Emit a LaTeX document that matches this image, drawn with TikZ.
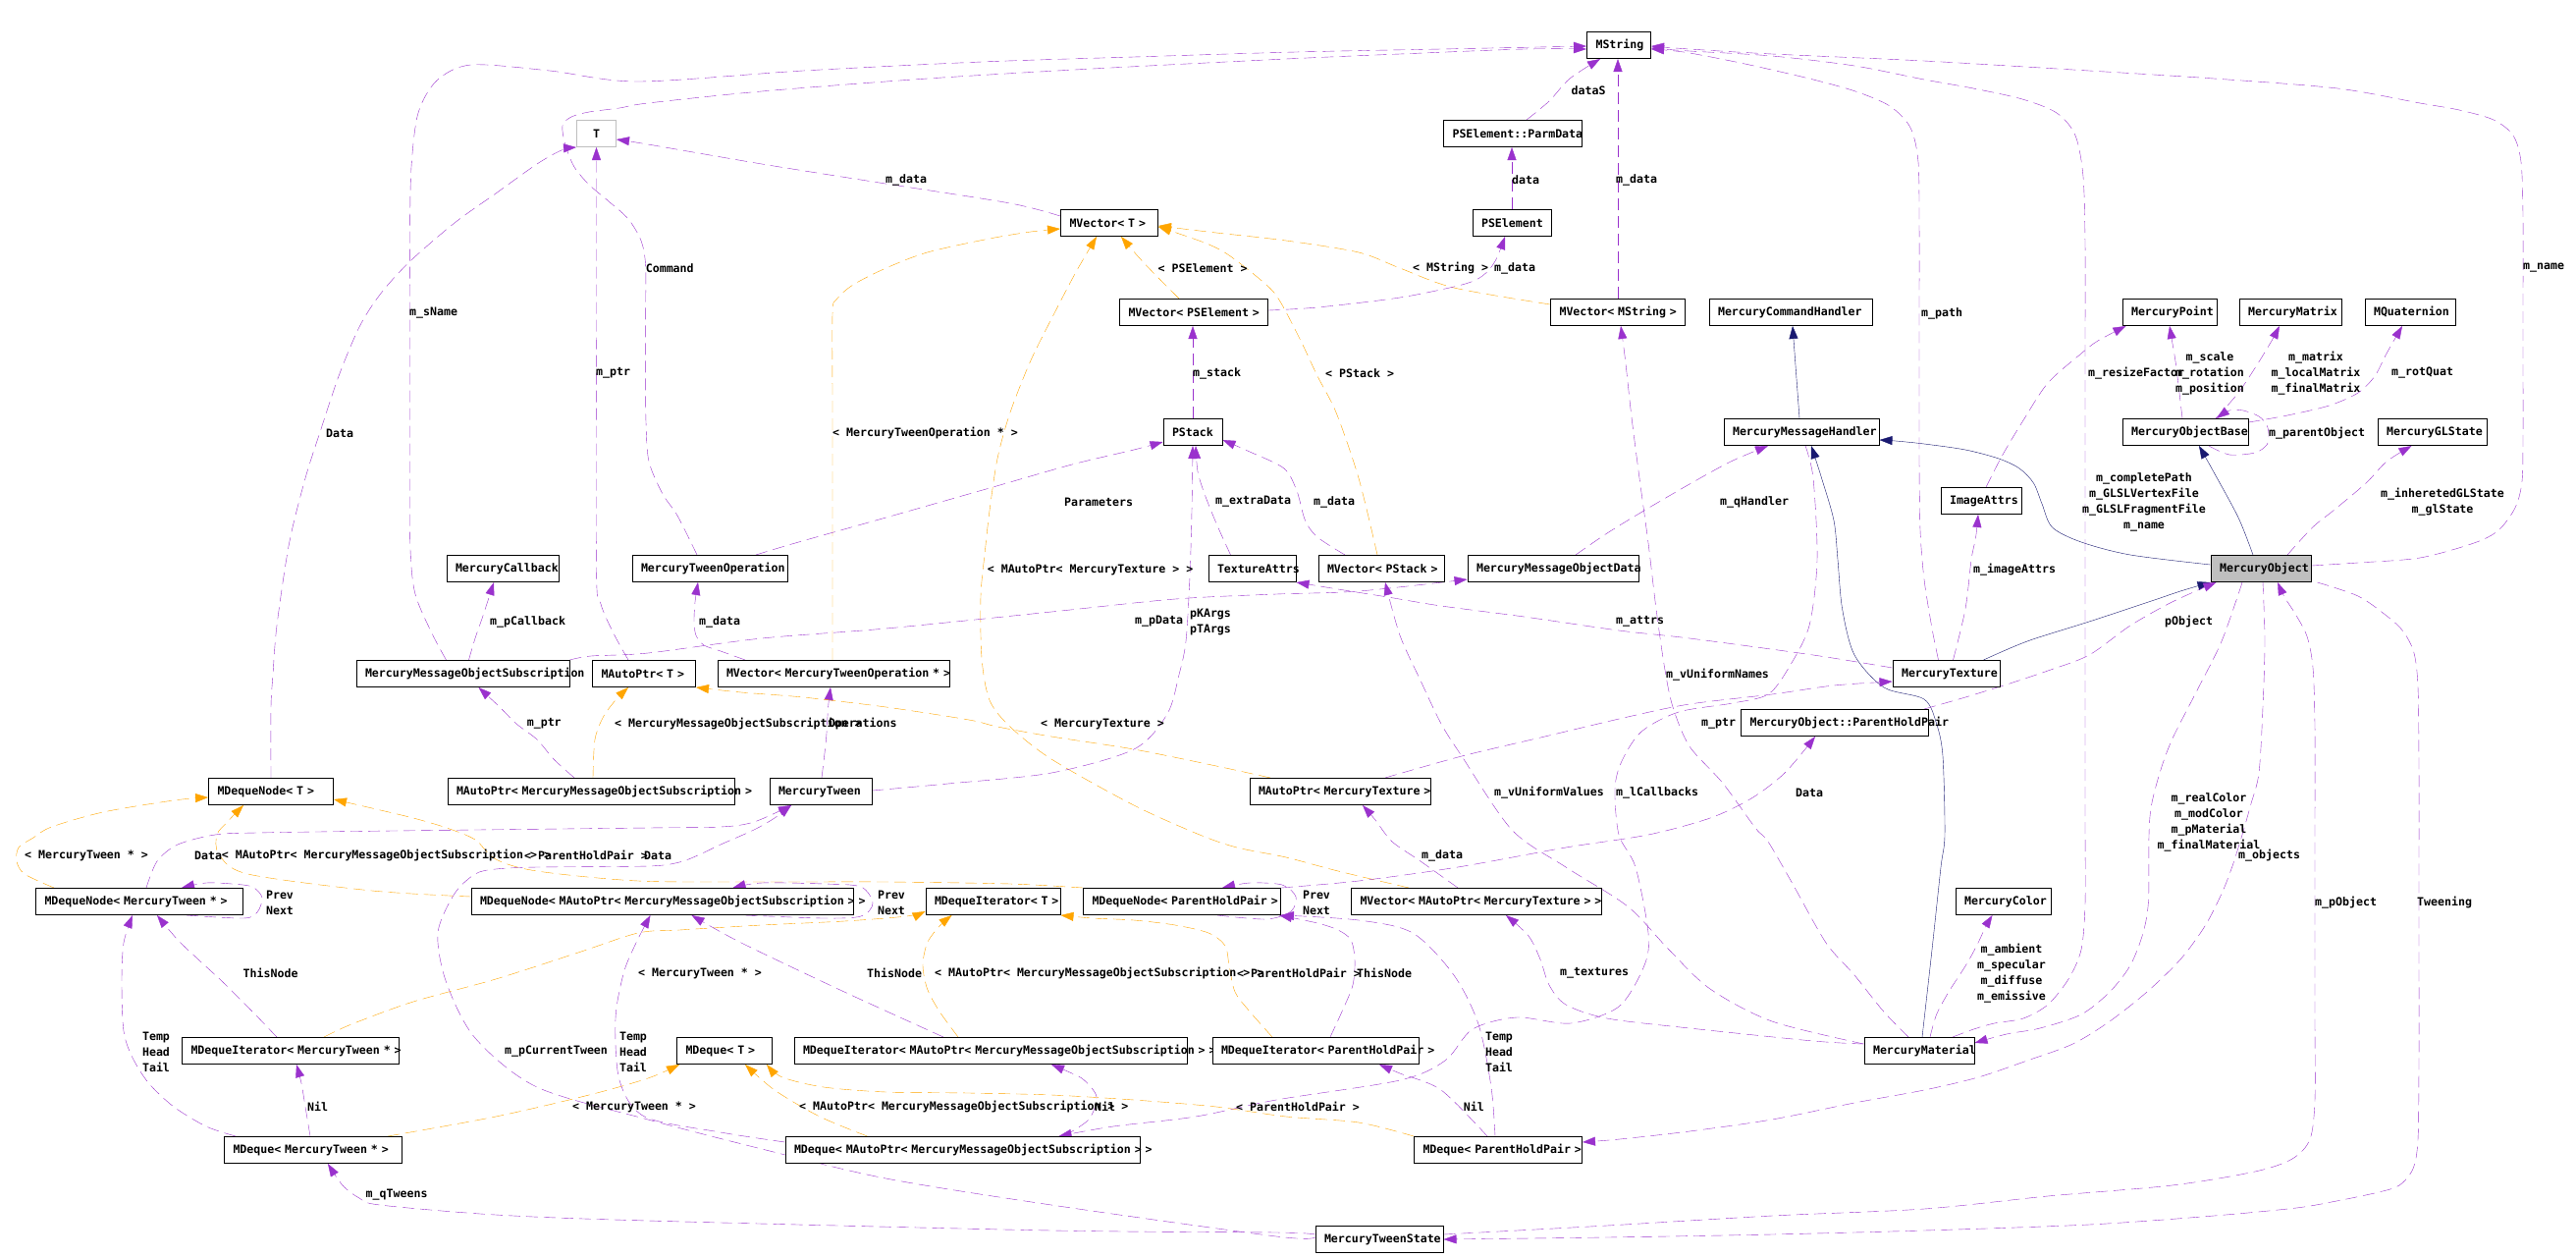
\documentclass[tikz,border=0pt]{standalone}
\usepackage{fontspec}
\newfontfamily\dvm{DejaVu Sans Mono}
\usetikzlibrary{arrows.meta,calc}
\pgfdeclarelayer{bg}
\pgfsetlayers{bg,main}
\definecolor{pur}{HTML}{9A32CD}
\definecolor{org}{HTML}{FFA500}
\definecolor{nvy}{HTML}{191970}
\definecolor{gfill}{HTML}{BFBFBF}
\newcommand\nf{\dvm\bfseries\fontsize{11.6pt}{16pt}\selectfont}
\begin{document}
\begin{tikzpicture}[x=1pt,y=-1pt,line width=1pt,
  box/.style={draw=black, fill=white, line width=1pt, minimum height=27pt, inner xsep=9pt, inner ysep=0pt, align=left, font=\nf, text width=#1},
  pu/.style={draw=pur, dash pattern=on 12pt off 6pt, -{Triangle[length=13pt,width=9pt]}},
  og/.style={draw=org, dash pattern=on 12pt off 6pt, -{Triangle[length=13pt,width=9pt]}},
  nv/.style={draw=nvy, solid, -{Triangle[length=13pt,width=9pt]}},
  lb/.style={font=\nf, inner sep=0pt, anchor=west},
  lc/.style={font=\nf, inner sep=0pt, align=center}]
\path[use as bounding box] (0,0) rectangle (2624,1280);
% ---------- nodes ----------
\node[box=22pt, draw=gfill, align=center] (tnode) at (607.5,136) {T};
\node[box=81pt] (mvt) at (1130,227) {\mbox{MVector< T >}};
\node[box=133pt] (mvpse) at (1216,318) {\mbox{MVector< PSElement >}};
\node[box=47pt] (mstring) at (1649,46) {\mbox{MString}};
\node[box=123pt] (parmdata) at (1541,136) {\mbox{PSElement::ParmData}};
\node[box=62pt] (pselem) at (1540,227) {\mbox{PSElement}};
\node[box=119pt] (mvms) at (1648,318) {\mbox{MVector< MString >}};
\node[box=148pt] (mch) at (1824,318) {\mbox{MercuryCommandHandler}};
\node[box=140pt] (mmh) at (1835,440) {\mbox{MercuryMessageHandler}};
\node[box=78pt] (mpoint) at (2210,318) {\mbox{MercuryPoint}};
\node[box=86pt] (mmatrix) at (2333,318) {\mbox{MercuryMatrix}};
\node[box=74pt] (mquat) at (2455,318) {\mbox{MQuaternion}};
\node[box=110pt] (mob) at (2226,440) {\mbox{MercuryObjectBase}};
\node[box=93pt] (mgl) at (2477.5,440) {\mbox{MercuryGLState}};
\node[box=64pt] (imgattrs) at (2018,510) {\mbox{ImageAttrs}};
\node[box=84pt, fill=gfill] (mo) at (2303,579) {\mbox{MercuryObject}};
\node[box=91pt] (mtex) at (1982.5,686) {\mbox{MercuryTexture}};
\node[box=173pt] (php) at (1869,736) {\mbox{MercuryObject::ParentHoldPair}};
\node[box=96pt] (mcb) at (512,579) {\mbox{MercuryCallback}};
\node[box=199pt] (mmos) at (471.5,686) {\mbox{MercuryMessageObjectSubscription}};
\node[box=87pt] (mapt) at (656,686) {\mbox{MAutoPtr< T >}};
\node[box=109pt] (mdnt) at (276,806) {\mbox{MDequeNode< T >}};
\node[box=274pt] (mapmmos) at (602,806) {\mbox{MAutoPtr< MercuryMessageObjectSubscription >}};
\node[box=42pt] (pstack) at (1215,440) {\mbox{PStack}};
\node[box=140pt] (mto) at (723,579) {\mbox{MercuryTweenOperation}};
\node[box=71pt] (texattrs) at (1275.5,579) {\mbox{TextureAttrs}};
\node[box=218pt] (mvmto) at (849,686) {\mbox{MVector< MercuryTweenOperation * >}};
\node[box=86pt] (mtween) at (836,806) {\mbox{MercuryTween}};
\node[box=166pt] (mapmt) at (1365,806) {\mbox{MAutoPtr< MercuryTexture >}};
\node[box=110pt] (mvps) at (1407,579) {\mbox{MVector< PStack >}};
\node[box=156pt] (mmod) at (1582,579) {\mbox{MercuryMessageObjectData}};
\node[box=193pt] (mdnmt) at (142,918) {\mbox{MDequeNode< MercuryTween * >}};
\node[box=203pt] (mdimt) at (296,1070) {\mbox{MDequeIterator< MercuryTween * >}};
\node[box=163pt] (mdqmt) at (319,1171) {\mbox{MDeque< MercuryTween * >}};
\node[box=371pt] (mdnap) at (674.5,918) {\mbox{MDequeNode< MAutoPtr< MercuryMessageObjectSubscription > >}};
\node[box=119pt] (mdit) at (1011.5,918) {\mbox{MDequeIterator< T >}};
\node[box=183pt] (mdnphp) at (1204,918) {\mbox{MDequeNode< ParentHoldPair >}};
\node[box=79pt] (mdqt) at (738,1070) {\mbox{MDeque< T >}};
\node[box=382pt] (mdiap) at (1009,1070) {\mbox{MDequeIterator< MAutoPtr< MercuryMessageObjectSubscription > >}};
\node[box=192pt] (mdiphp) at (1340,1070) {\mbox{MDequeIterator< ParentHoldPair >}};
\node[box=343pt] (mdqap) at (980.5,1171) {\mbox{MDeque< MAutoPtr< MercuryMessageObjectSubscription > >}};
\node[box=237pt] (mvapmt) at (1504,918) {\mbox{MVector< MAutoPtr< MercuryTexture > >}};
\node[box=153pt] (mdqphp) at (1526,1171) {\mbox{MDeque< ParentHoldPair >}};
\node[box=112pt] (mts) at (1405,1262) {\mbox{MercuryTweenState}};
\node[box=94pt] (mmat) at (1955,1070) {\mbox{MercuryMaterial}};
\node[box=79pt] (mcolor) at (2040.5,918) {\mbox{MercuryColor}};
% ---------- edges ----------
\begin{pgfonlayer}{bg}
\draw[pu] plot[smooth] coordinates {([xshift=-17pt]mmos.north) (440,645) (423,605) (418,560) (417.5,480) (417.5,400) (417.5,320) (417.5,240) (419,170) (426,115) (445,82) (480,66) (560,72) (650,83) (818,72) (1000,63) (1155,58) (1320,53) (1468,50) ([yshift=-1pt]mstring.west)};
\draw[pu] plot[smooth] coordinates {([xshift=-13pt]mto.north) (690,525) (675,503) (661,470) (658,430) (657.6,380) (657.6,320) (657.6,270) (653,245) (640,223) (620,205) (600,188) (585,170) (576,148) (573,128) (582,119) (600,114) (631,110) (660,105) (776,93) (944.6,80) (1113,70) (1310,60) (1426,55) (1552.5,50) ([yshift=-4pt]mstring.west)};
\draw[pu] plot[smooth] coordinates {([yshift=7pt]mvt.west) (1029,207) (902,187) (776,167) (660,147) ([yshift=-6pt]tnode.east)};
\draw[pu] plot[smooth] coordinates {([xshift=-16pt]mapt.north) (625,645) (612,615) (607.5,580) (607.5,300) (tnode.south)};
\draw[pu] plot[smooth] coordinates {(mdnt.north) (276,720) (278,687) (282,637) (294.6,553) (311,487) (326,440) (345,383) (366,333) (387,300) (416.7,267) (463,227) (505,197) (547,167) (572,153) (tnode.south west)};
\draw[og] plot[smooth] coordinates {([xshift=-15pt]mvpse.north) (1180,283) (1160,262) ([xshift=12pt]mvt.south)};
\draw[og] plot[smooth] coordinates {([yshift=8pt]mvms.west) (1481,293) (1426,273) (1384,257) (1310,245) (1239,237) ([yshift=-3pt]mvt.east)};
\draw[og] plot[smooth] coordinates {([xshift=-4pt]mvps.north) (1384,487) (1361,420) (1342,383) (1325,347) (1304,307) (1290,290) (1252,260) (1226.6,247) ([yshift=-4pt]mvt.east)};
\draw[og] plot[smooth] coordinates {([xshift=-1pt]mvmto.north) (848,420) (848,320) (852,305) (869,290) (902.5,273) (944.6,257) (1008,243) (1050,236) ([yshift=-6pt]mvt.west)};
\draw[og] plot[smooth] coordinates {([xshift=-69pt]mvapmt.north) (1363,887) (1310,873) (1260,863) (1222,850) (1155,820) (1071,773) (1029,740) (1008,713) (1000,670) (999,607) (1003.5,560) (1008,520) (1016,467) (1029,420) (1050,367) (1075,317) (1096,277) ([xshift=-13pt]mvt.south)};
\draw[pu] plot[smooth] coordinates {([xshift=14pt]parmdata.north) (1578,103) (1599,80) ([xshift=-19pt]mstring.south)};
\draw[pu] (pselem.north) -- (pselem.north |- parmdata.south);
\draw[pu] (mvms.north) -- (mvms.north |- mstring.south);
\draw[pu] plot[smooth] coordinates {([yshift=2pt]mvpse.east) (1342,313) (1426,303) (1489,290) (1510,281) (1523,266) ([xshift=-7pt]pselem.south)};
\draw[pu] (pstack.north) -- (pstack.north |- mvpse.south);
\draw[pu] plot[smooth] coordinates {([xshift=47pt]mto.north) (810,553) (902.5,527) (1008,497) (1092,473) (1155,458) ([yshift=-10pt]pstack.west)};
\draw[pu] plot[smooth] coordinates {([xshift=-22pt]texattrs.north) (1239,533) (1227,503) (1220,480) ([xshift=3pt]pstack.south)};
\draw[pu] plot[smooth] coordinates {([xshift=-37pt]mvps.north) (1342,547) (1329.5,530) (1321,500) (1308,477) (1273,460) ([yshift=-8pt]pstack.east)};
\draw[pu] plot[smooth] coordinates {([xshift=23pt]mmod.north) (1637,543) (1674.6,520) (1721,493) (1763,470) ([xshift=-34pt]mmh.south)};
\draw[nv] ([xshift=-2pt]mmh.north) -- ([xshift=2pt]mch.south);
\draw[nv] plot[smooth] coordinates {([yshift=4pt]mo.west) (2170,565) (2120,552) (2090.5,537) (2080,513) (2071.5,492) (2057,477) (2036,467) (2002,458) (1960,452) (1931,449) ([yshift=-8pt]mmh.east)};
\draw[nv] plot[smooth] coordinates {([xshift=3pt]mmat.north) (1968,967) (1977,883) (1981,850) (1979,770) (1972.6,737) (1960,712) (1919,700) (1889,667) (1876.6,620) (1872,570) (1868,530) (1855.6,487) ([xshift=10pt]mmh.south)};
\draw[nv] plot[smooth] coordinates {([xshift=-8pt]mo.north) (2280,527) (2254.6,480) ([xshift=14pt]mob.south)};
\draw[pu] plot[smooth] coordinates {([xshift=-3pt]mob.north) (2216.7,373) (2212.5,347) (mpoint.south)};
\draw[pu] plot[smooth] coordinates {([xshift=31pt]mob.north) (2280,400) (2300,370) (2314,347) ([xshift=-11pt]mmatrix.south)};
\draw[pu] plot[smooth] coordinates {([yshift=-4pt]mob.north east) (2330,423) (2372.5,413) (2402,400) (2419,383) (2431,360) ([xshift=-8pt]mquat.south)};
\draw[pu] plot[smooth] coordinates {([xshift=24pt]mob.south) (2271,463) (2297,461) (2309,453) (2311,443) (2309,433) (2301,424) (2285,418) (2271,418) ([xshift=32pt]mob.north)};
\draw[pu] plot[smooth] coordinates {([xshift=27pt]mo.north) (2355.6,537) (2376.7,520) (2410,492) (2431,470) ([xshift=-21pt]mgl.south)};
\draw[pu] plot[smooth] coordinates {([yshift=3pt]mo.east) (2402,573) (2465,568) (2520,553) (2545,540) (2562,517) (2569,490) (2570,440) (2570,380) (2570,300) (2570,220) (2568,165) (2560,138) (2540,122) (2505,112) (2465,105) (2381,90) (2255,80) (2128,72) (1960,62) (1805,55) (1721,50) ([yshift=-1pt]mstring.east)};
\draw[pu] plot[smooth] coordinates {([xshift=-8pt]mtex.north) (1968,640) (1960,590) (1956,540) (1955,470) (1955,390) (1955,310) (1955,230) (1954,165) (1946,130) (1925,108) (1890,93) (1847,81) (1800,70) (1763,62) (1715,53) ([yshift=-4pt]mstring.east)};
\draw[pu] plot[smooth] coordinates {([xshift=34pt]mmat.north) (2010.5,1048) (2031.5,1042) (2061,1037) (2086,1023) (2107,997) (2120,967) (2124,920) (2124,840) (2124,740) (2124,640) (2124,540) (2124,440) (2124,340) (2124,250) (2122,180) (2114,138) (2095,115) (2060,101) (2010,90) (1960,81) (1889,67) (1805,57) (1721,52) ([yshift=-3pt]mstring.east)};
\draw[pu] plot[smooth] coordinates {([xshift=5pt]imgattrs.north) (2040,463) (2061,428) (2086,390) (2120,360) (2137,347) ([xshift=4pt]mpoint.south west)};
\draw[pu] plot[smooth] coordinates {([xshift=7pt]mtex.north) (2002,620) (2008,570) (2012.6,547) ([xshift=-3pt]imgattrs.south)};
\draw[pu] plot[smooth] coordinates {([yshift=6pt]mtex.west) (1847,667) (1721,650) (1649,642) (1552.5,628) (1468,617) (1413.6,608) (1363,600) (texattrs.south east)};
\draw[nv] plot[smooth] coordinates {([xshift=38pt]mtex.north) (2065,653) (2128,633) (2191.5,612) (2221,602) (mo.south west)};
\draw[pu] plot[smooth] coordinates {([xshift=-5pt]php.north east) (2002,710) (2044,697) (2086,683) (2128,667) (2170,637) (2212.5,613) ([xshift=6pt]mo.south west)};
\draw[pu] plot[smooth] coordinates {([xshift=-19pt]mo.south) (2263,653) (2238,703) (2212.5,753) (2200,787) (2191.5,820) (2189,850) (2188.5,917) (2183,950) (2170,983) (2149,1010) (2120,1033) (2078,1047) (2044,1053) ([yshift=8pt]mmat.east)};
\draw[pu] plot[smooth] coordinates {([xshift=2pt]mo.south) (2307,653) (2305,720) (2301,787) (2292.5,820) (2284,850) (2273.6,883) (2263,910) (2246,943) (2221,977) (2187,1010) (2149,1040) (2111.5,1063) (2065,1080) (2015,1097) (1960,1110) (1889,1123) (1805,1140) (1721,1152) (1650,1160) ([yshift=8pt]mdqphp.east)};
\draw[pu] plot[smooth] coordinates {([yshift=5pt]mts.east) (1637,1248) (1805,1238) (1960,1231) (2086,1218) (2212.5,1207) (2297,1193) (2335,1180) (2353,1160) (2358,1120) (2358,1040) (2358,940) (2358,840) (2358,740) (2356,680) (2350,648) (2338,625) (2327,608) ([xshift=17pt]mo.south)};
\draw[pu] plot[smooth] coordinates {([xshift=6pt]mo.south east) (2402,607) (2431,627) (2448,643) (2459,665) (2463,700) (2464,780) (2464,880) (2464,980) (2464,1080) (2463,1160) (2458,1190) (2444,1207) (2423,1214) (2380,1223) (2339,1230) (2255,1238) (2128,1247) (1960,1253) (1805,1257) (1637,1260) (mts.east)};
\draw[pu] plot[smooth] coordinates {([xshift=11pt]mmat.north) (1972.6,1033) (1985,1010) (1998,990) (2006,977) (2015,960) (2023,943) ([xshift=-11pt]mcolor.south)};
\draw[pu] plot[smooth] coordinates {([xshift=-11pt]mmat.north) (1918.7,1030) (1889,993) (1860,960) (1826,900) (1801,857) (1788,843) (1754.5,797) (1721,760) (1704,720) (1695.6,680) (1687,620) (1679,553) (1670,487) (1662,425) (1655.6,367) ([xshift=3pt]mvms.south)};
\draw[pu] plot[smooth] coordinates {([yshift=7pt]mmat.west) (1805,1040) (1742,1007) (1700,967) (1658,923) (1595,883) (1540,845) (1489,770) (1468,737) (1447,693) (1426,647) ([xshift=4pt]mvps.south)};
\draw[pu] plot[smooth] coordinates {([yshift=7pt]mmat.west) (1847,1060) (1721,1047) (1637,1037) (1595,1023) (1578,1003) (1569,977) (1557,953) ([xshift=30pt]mvapmt.south)};
\draw[pu] plot[smooth] coordinates {([xshift=-19pt]mvapmt.north) (1447,877) (1418,857) (1401,835) ([xshift=23pt]mapmt.south)};
\draw[pu] plot[smooth] coordinates {(mdnphp.north east) (1384,897) (1485,883) (1595,863) (1679,850) (1742,833) (1784,813) (1818,787) ([xshift=-20pt]php.south)};
\draw[pu] plot[smooth] coordinates {([xshift=46pt]mapmt.north) (1489,770) (1573.6,750) (1658,730) (1721,717) (1805,707) (1868,698) ([yshift=-8pt]mtex.west)};
\draw[pu] plot[smooth] coordinates {([xshift=4pt]mmh.south) (1847,487) (1851,570) (1843,637) (1822,680) (1801,707) (1765,716) (1710,725) (1672,745) (1652,775) (1645,803) (1649,850) (1666,883) (1679,950) (1675,983) (1649,1025) (1600,1042) (1545,1036) (1500,1048) (1472,1080) (1426,1100) (1300,1120) (1218,1137) (1134,1147) ([xshift=98pt]mdqap.north)};
\draw[pu] plot[smooth] coordinates {([xshift=-17pt]mapmmos.north) (564,773) (547,753) (526,737) (509,720) ([xshift=16pt]mmos.south)};
\draw[og] plot[smooth] coordinates {([xshift=2pt]mapmmos.north) (606,753) (614.5,730) (627,713) ([xshift=-16pt]mapt.south)};
\draw[pu] plot[smooth] coordinates {([xshift=1pt]mtween.north) (841.5,753) (843.6,720) ([xshift=-3pt]mvmto.south)};
\draw[og] plot[smooth] coordinates {([xshift=-71pt]mapmt.north) (1239,780) (1155,763) (1071,750) (1016,740) (987,733) (902.5,720) (818,710) (755,705) (mapt.south east)};
\draw[pu] plot[smooth] coordinates {([xshift=6pt]mmos.north) (484,650) (492,627) ([xshift=-9pt]mcb.south)};
\draw[pu] plot[smooth] coordinates {(mmos.north east) (602,668) (660,665) (776,650) (902.5,640) (1071,623) (1197,610) (1300,605) (1384,602) ([yshift=3pt]mmod.south west)};
\draw[pu] plot[smooth] coordinates {([yshift=1pt]mtween.east) (965.6,798) (1071,787) (1155,763) (1189,727) (1201,687) (1208,653) (1212,587) (1214,520) (pstack.south)};
\draw[pu] plot[smooth] coordinates {([xshift=-90pt]mvmto.north) (734,663) (717,657) (709,647) (707,633) (708,613) ([xshift=-12pt]mto.south)};
\draw[pu] plot[smooth] coordinates {([xshift=7pt]mdnmt.north) (160,877) (181,860) (219,850) (261,848) (400,846) (660,843) (734,842) (768,837) ([xshift=-30pt]mtween.south)};
\draw[pu] plot[smooth] coordinates {([yshift=2pt]mts.west) (1300,1259) (1071,1227) (902.5,1200) (776,1170) (660,1140) (547,1107) (484,1057) (454.5,1000) (446,950) (463,910) (484,890) (505,885) (547,883) (660,882) (692,878) (713,870) (734,860) (768,845) (789,833) ([xshift=-30pt]mtween.south)};
\draw[pu] plot[smooth] coordinates {([yshift=5pt]mts.west) (1300,1255) (1071,1253) (660,1243) (505,1237) (387,1227) (366,1220) (349,1207) ([xshift=15pt]mdqmt.south)};
\draw[og] plot[smooth] coordinates {([xshift=-87pt]mdnmt.north) (25,890) (17,877) (19,863) (34,853) (52.6,842) (105,827) (177,815) ([yshift=-6pt]mdnt.west)};
\draw[og] plot[smooth] coordinates {([yshift=5pt]mdnap.west) (379,907) (252.5,890) (223,870) (221,850) (231.5,837) ([xshift=-28pt]mdnt.south)};
\draw[og] plot[smooth] coordinates {(mdnphp.north west) (1029,900) (902.5,898) (776,898) (650,897) (547,887) (505,875) (484,855) (455,843) (421,833) (379,823) ([yshift=-8pt]mdnt.east)};
\draw[pu] plot[smooth] coordinates {([xshift=48pt]mdnmt.south) (248,935) (262,929) (267,914) (257,903) (236,900) (210,899) ([xshift=43pt]mdnmt.north)};
\draw[pu] plot[smooth] coordinates {([xshift=85pt]mdnap.south) (839,935) (877,933) (889,920) (877,903) (839,900) (776,899) ([xshift=72pt]mdnap.north)};
\draw[pu] plot[smooth] coordinates {([xshift=36pt]mdnphp.south) (1290,936) (1315,928) (1320,913) (1306,901) (1273,899) ([xshift=41pt]mdnphp.north)};
\draw[pu] plot[smooth] coordinates {([xshift=-14pt]mdimt.north) (257,1030) (227,1000) (202,977) (181,957) ([xshift=18pt]mdnmt.south)};
\draw[pu] plot[smooth] coordinates {([xshift=-79pt]mdqmt.north) (210,1147) (177,1127) (151.5,1103) (135,1077) (126,1050) (124,1000) (126,960) ([xshift=-7pt]mdnmt.south)};
\draw[pu] plot[smooth] coordinates {([xshift=-3pt]mdqmt.north) (311,1127) (307,1103) ([xshift=6pt]mdimt.south)};
\draw[og] plot[smooth] coordinates {([xshift=34pt]mdimt.north) (358,1043) (421,1020) (505,997) (589,970) (650,950) (692,947) (776,942) (860,938) (923.6,933) ([yshift=-10pt]mdit.west)};
\draw[og] plot[smooth] coordinates {([xshift=76pt]mdqmt.north) (505,1137) (600,1115) (660,1098) ([xshift=3pt]mdqt.south west)};
\draw[pu] plot[smooth] coordinates {([xshift=-48pt]mdiap.north) (860,1010) (755,960) ([xshift=30pt]mdnap.south)};
\draw[og] plot[smooth] coordinates {([xshift=-33pt]mdiap.north) (957,1030) (944.6,1007) (940,983) (944.6,960) (957,943) ([xshift=27pt]mdit.south west)};
\draw[pu] plot[smooth] coordinates {([xshift=15pt]mdiphp.north) (1367,1030) (1378,1003) (1380,977) (1376,957) (1363,947) (1342,940) ([xshift=-2pt]mdnphp.south east)};
\draw[og] plot[smooth] coordinates {([xshift=-44pt]mdiphp.north) (1273,1030) (1258,1010) (1252,983) (1248,963) (1231,950) (1197,942) (1155,937) (1113,935) (mdit.south east)};
\draw[pu] plot[smooth] coordinates {([xshift=103pt]mdqap.north) (1109,1140) (1117,1117) (1104.5,1100) (1092,1093) ([xshift=62pt]mdiap.south)};
\draw[og] plot[smooth] coordinates {([xshift=-97pt]mdqap.north) (835,1137) (789,1110) ([xshift=21pt]mdqt.south)};
\draw[pu] plot[smooth] coordinates {([yshift=8pt]mdqap.west) (734,1153) (656.6,1137) (631,1100) (627,1037) (635.5,990) (648,960) ([xshift=-12pt]mdnap.south)};
\draw[pu] plot[smooth] coordinates {([xshift=-11pt]mdqphp.north) (1468,1110) (1426,1093) ([xshift=65pt]mdiphp.south)};
\draw[og] plot[smooth] coordinates {(mdqphp.north west) (1384,1143) (1310,1137) (1239,1127) (1155,1120) (1071,1115) (987,1113) (902.5,1112) (839,1107) (797,1097) ([xshift=-6pt]mdqt.south east)};
\draw[pu] plot[smooth] coordinates {([xshift=-3pt]mdqphp.north) (1519,1107) (1506,1043) (1481,993) (1439,950) (1384,937) (mdnphp.south east)};
\end{pgfonlayer}
% ---------- labels ----------
\node[lb] (l1) at (417,319) {m\_sName};
\node[lb] (l2) at (607,380) {m\_ptr};
\node[lb] (l3) at (657.6,273) {Command};
\node[lb] (l4) at (902,183) {m\_data};
\node[lb] (l5) at (1179.5,273) {< PSElement >};
\node[lb] (l6) at (1439,273) {< MString >};
\node[lb] (l7) at (1522,273) {m\_data};
\node[lb] (l8) at (1600.5,92) {dataS};
\node[lb] (l9) at (1540,183) {data};
\node[lb] (l10) at (1646,183) {m\_data};
\node[lb] (l11) at (1350,380) {< PStack >};
\node[lb] (l12) at (1215,380) {m\_stack};
\node[lb] (l13) at (848,441) {< MercuryTweenOperation * >};
\node[lb] (l14) at (332,441) {Data};
\node[lb] (l15) at (1084,511) {Parameters};
\node[lb] (l16) at (1238,511) {m\_extraData};
\node[lb] (l17) at (1338,511) {m\_data};
\node[lb] (l18) at (1752,511) {m\_qHandler};
\node[lb] (l19) at (1957,319) {m\_path};
\node[lb] (l20) at (2570,273) {m\_name};
\node[lb] (l21) at (2127,380) {m\_resizeFactor};
\node[lc] (l22) at (2251,380) {m\_scale\\m\_rotation\\m\_position};
\node[lc] (l23) at (2359,380) {m\_matrix\\m\_localMatrix\\m\_finalMatrix};
\node[lb] (l24) at (2436,380) {m\_rotQuat};
\node[lb] (l25) at (2311,441) {m\_parentObject};
\node[lc] (l26) at (2184,511) {m\_completePath\\m\_GLSLVertexFile\\m\_GLSLFragmentFile\\m\_name};
\node[lc] (l27) at (2488,511) {m\_inheretedGLState\\m\_glState};
\node[lb] (l28) at (2010,580) {m\_imageAttrs};
\node[lb] (l29) at (499,633) {m\_pCallback};
\node[lb] (l30) at (712,633) {m\_data};
\node[lb] (l31) at (1005.6,580) {< MAutoPtr< MercuryTexture > >};
\node[lb] (l32) at (1156,633) {m\_pData};
\node[lc] (l33) at (1233,633) {pKArgs\\pTArgs};
\node[lb] (l34) at (1646,633) {m\_attrs};
\node[lb] (l35) at (2205,633) {pObject};
\node[lb] (l36) at (1697,687) {m\_vUniformNames};
\node[lb] (l37) at (536.6,737) {m\_ptr};
\node[lb] (l38) at (626,737) {< MercuryMessageObjectSubscription >};
\node[lb] (l39) at (843.6,737) {Operations};
\node[lb] (l40) at (1060,737) {< MercuryTexture >};
\node[lb] (l41) at (1733,737) {m\_ptr};
\node[lb] (l42) at (1522,807) {m\_vUniformValues};
\node[lb] (l43) at (1646,807) {m\_lCallbacks};
\node[lb] (l44) at (1829,807) {Data};
\node[lc] (l45) at (2250,837) {m\_realColor\\m\_modColor\\m\_pMaterial\\m\_finalMaterial};
\node[lb] (l46) at (25,871) {< MercuryTween * >};
\node[lb] (l47) at (198,871) {Data};
\node[lb] (l48) at (225.6,871) {< MAutoPtr< MercuryMessageObjectSubscription > >};
\node[lb] (l49) at (534,871) {< ParentHoldPair >};
\node[lb] (l50) at (656,871) {Data};
\node[lb] (l51) at (1448,871) {m\_data};
\node[lb] (l52) at (2280,871) {m\_objects};
\node[lc] (l53) at (285,919) {Prev\\Next};
\node[lc] (l54) at (908,919) {Prev\\Next};
\node[lc] (l55) at (1341,919) {Prev\\Next};
\node[lb] (l56) at (2358,919) {m\_pObject};
\node[lb] (l57) at (2462,919) {Tweening};
\node[lc] (l58) at (2049,991) {m\_ambient\\m\_specular\\m\_diffuse\\m\_emissive};
\node[lb] (l59) at (247.5,991) {ThisNode};
\node[lb] (l60) at (650,991) {< MercuryTween * >};
\node[lb] (l61) at (883,991) {ThisNode};
\node[lb] (l62) at (952,991) {< MAutoPtr< MercuryMessageObjectSubscription > >};
\node[lb] (l63) at (1260,991) {< ParentHoldPair >};
\node[lb] (l64) at (1382,991) {ThisNode};
\node[lb] (l65) at (1589,991) {m\_textures};
\node[lc] (l66) at (159,1071) {Temp\\Head\\Tail};
\node[lb] (l67) at (514,1071) {m\_pCurrentTween};
\node[lc] (l68) at (645,1071) {Temp\\Head\\Tail};
\node[lc] (l69) at (1527,1071) {Temp\\Head\\Tail};
\node[lb] (l70) at (313,1127) {Nil};
\node[lb] (l71) at (583,1127) {< MercuryTween * >};
\node[lb] (l72) at (814,1127) {< MAutoPtr< MercuryMessageObjectSubscription > >};
\node[lb] (l73) at (1115,1127) {Nil};
\node[lb] (l74) at (1259,1127) {< ParentHoldPair >};
\node[lb] (l75) at (1490.6,1127) {Nil};
\node[lb] (l76) at (372.5,1217) {m\_qTweens};
\end{tikzpicture}
\end{document}
